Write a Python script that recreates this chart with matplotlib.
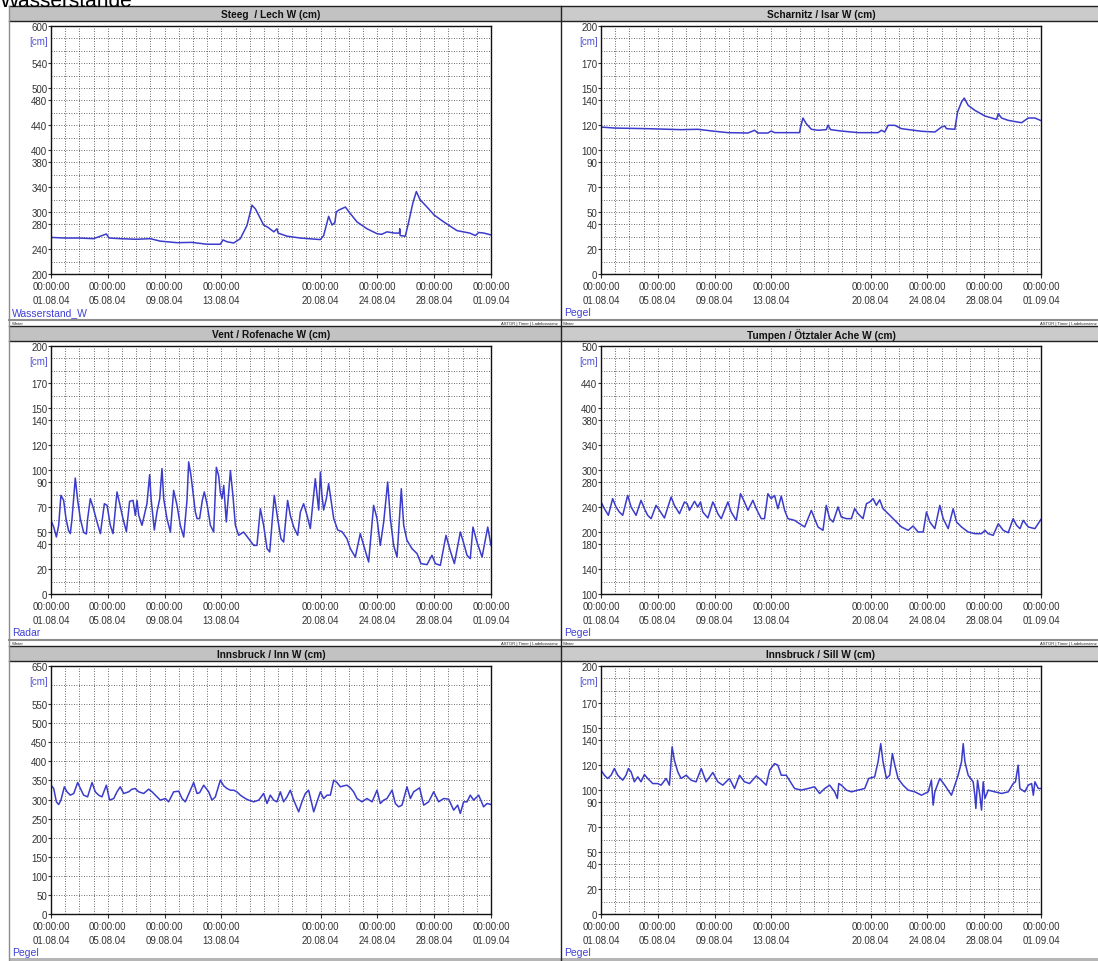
import matplotlib
matplotlib.use("Agg")
import matplotlib.pyplot as plt
from matplotlib.patches import Rectangle

plt.rcParams['font.family'] = ['Liberation Sans', 'DejaVu Sans']

# ---------------- data (time in days since 01.08.04 00:00, level in cm) -------------
steeg_day = [0, 1, 2, 3, 3.9, 4.1, 4.88, 6, 7.0, 7.7, 8.88, 9.93, 10.99, 11.93, 12.12, 12.4,
             12.87, 13.34, 13.81, 14.16, 14.4, 14.63, 14.98, 15.3, 15.7, 15.92, 16.0, 16.63,
             17.57, 18.98, 19.21, 19.56, 19.80, 20.0, 20.1, 20.27, 20.74, 21.0, 21.56, 22.26,
             22.97, 23.3, 23.67, 24.2, 24.55, 24.57, 24.6, 24.96, 25.2, 25.5, 25.74, 26.0,
             26.49, 27.0, 27.67, 28.6, 29.5, 29.9, 30.13, 30.5, 31.0]
steeg_cm = [259, 258, 258, 257, 264.5, 258, 257, 256, 257, 253, 250.5, 251, 248, 248, 255, 252,
            250, 257, 278.5, 311, 305, 295, 279, 275, 268, 273, 266, 261,
            258, 255.5, 262, 293, 279, 283, 300, 303, 308, 300, 284, 273,
            265, 264, 268, 266, 266, 273, 262, 261, 284, 315, 333, 320,
            308, 295, 284, 270, 266, 262, 267, 266, 263]

scharnitz_day = [0, 0.94, 3.29, 5.64, 6.82, 8.00, 8.94, 10.35, 10.82, 11.05, 11.76, 11.99, 12.23,
                 13.99, 14.06, 14.23, 14.46, 14.82, 15.29, 15.87, 15.99, 16.18, 16.93, 18.11,
                 19.52, 19.76, 19.99, 20.23, 20.70, 21.17, 22.58, 23.52, 23.99, 24.22, 24.34,
                 24.93, 25.12, 25.40, 25.59, 25.87, 26.34, 27.05, 27.87, 27.99, 28.22, 28.69,
                 29.63, 30.10, 30.57, 31.0]
scharnitz_cm = [118.5, 117.7, 117.2, 116.4, 116.7, 115.1, 114.0, 113.7, 115.9, 113.7, 113.7, 115.3,
                114.0, 114.0, 118.5, 125.8, 121.2, 116.7, 115.9, 116.4, 119.9, 116.4, 115.3, 114.0,
                114.0, 115.9, 114.5, 119.9, 119.9, 117.2, 115.1, 114.5, 118.5, 119.4, 117.2,
                116.7, 130.6, 138.7, 141.9, 136.0, 132.0, 127.4, 124.7, 129.3, 125.8, 123.9,
                122.0, 125.8, 125.8, 123.7]

vent_day = [0.00, 0.19, 0.38, 0.54, 0.70, 0.89, 1.06, 1.24, 1.36, 1.48, 1.71, 1.88, 2.07, 2.30,
            2.49, 2.58, 2.77, 2.96, 3.24, 3.48, 3.76, 3.95, 4.18, 4.37, 4.65, 4.84, 5.07, 5.31,
            5.54, 5.78, 5.94, 6.06, 6.18, 6.41, 6.76, 6.95, 7.05, 7.28, 7.47, 7.66, 7.82, 7.94,
            8.17, 8.41, 8.64, 8.88, 9.11, 9.35, 9.58, 9.70, 9.86, 10.17, 10.29, 10.47, 10.66,
            10.80, 10.99, 11.23, 11.46, 11.65, 11.81, 11.93, 12.05, 12.17, 12.35, 12.64, 12.82,
            12.99, 13.22, 13.57, 13.93, 14.28, 14.51, 14.75, 14.98, 15.22, 15.41, 15.73, 15.97,
            16.20, 16.39, 16.67, 16.86, 17.10, 17.38, 17.57, 17.80, 18.04, 18.27, 18.62, 18.86,
            18.98, 19.09, 19.21, 19.40, 19.56, 19.73, 19.92, 20.20, 20.50, 20.85, 21.09, 21.44,
            21.79, 22.03, 22.38, 22.73, 22.97, 23.20, 23.44, 23.72, 23.91, 24.14, 24.38, 24.68,
            24.85, 25.08, 25.43, 25.79, 26.07, 26.49, 26.84, 27.08, 27.43, 27.83, 28.14, 28.42,
            28.84, 29.12, 29.31, 29.54, 29.73, 30.01, 30.37, 30.77, 31.00]
vent_cm = [59.4, 54.0, 46.0, 55.4, 79.6, 75.5, 60.5, 51.1, 48.7, 60.5, 93.5, 75.5, 60.5, 49.7,
           48.4, 60.5, 76.9, 70.2, 58.1, 48.7, 72.8, 71.5, 55.4, 48.7, 82.3, 72.8, 60.8, 50.3,
           74.7, 75.5, 63.4, 75.5, 63.4, 55.4, 72.8, 96.2, 76.9, 51.6, 66.4, 76.9, 101.1, 76.9,
           60.8, 50.0, 83.6, 71.5, 55.4, 45.9, 75.5, 106.5, 95.7, 66.1, 60.8, 60.8, 75.5,
           82.3, 72.8, 55.4, 50.0, 102.2, 95.4, 82.0, 76.9, 87.6, 58.1, 99.5, 79.0,
           55.4, 47.3, 50.0, 44.6, 39.2, 39.2, 68.8, 55.4, 36.6, 33.9, 79.6, 60.8,
           44.6, 41.9, 75.5, 63.4, 54.0, 47.3, 66.1, 72.8, 63.4, 52.7, 93.0, 67.7,
           98.4, 79.6, 67.7, 76.9, 89.0, 75.5, 60.8, 51.6, 50.3, 44.6, 36.6, 29.8,
           48.7, 39.2, 25.8, 71.5, 60.8, 39.2, 58.1, 90.3, 60.8, 39.2, 29.8, 84.9,
           55.4, 43.3, 36.6, 32.6, 24.5, 23.7, 31.2, 24.5, 23.1, 47.3, 34.4, 24.5,
           50.0, 39.2, 31.2, 28.5, 54.0, 41.9, 29.8, 54.0, 39.2]

tumpen_day = [0, 0.24, 0.52, 0.82, 1.06, 1.29, 1.53, 1.88, 2.12, 2.47, 2.82, 3.06, 3.29, 3.53,
              3.88, 4.12, 4.47, 4.94, 5.17, 5.53, 5.88, 6.07, 6.23, 6.59, 6.82, 7.01, 7.17, 7.53,
              7.88, 8.00, 8.23, 8.47, 8.94, 9.17, 9.53, 9.83, 10.11, 10.35, 10.70, 10.94, 11.29,
              11.52, 11.76, 11.99, 12.23, 12.46, 12.70, 12.94, 13.17, 13.64, 13.99, 14.35, 14.82,
              15.05, 15.29, 15.64, 15.87, 16.11, 16.35, 16.70, 16.93, 17.29, 17.64, 17.87, 18.11,
              18.46, 18.70, 18.93, 19.17, 19.40, 19.64, 19.87, 20.23, 20.70, 21.17, 21.64, 21.99,
              22.34, 22.70, 22.93, 23.17, 23.52, 23.87, 24.11, 24.46, 24.81, 25.05, 25.40, 25.87,
              26.34, 26.81, 27.05, 27.28, 27.63, 27.99, 28.34, 28.69, 29.04, 29.28, 29.52, 29.75,
              30.10, 30.57, 31.00]
tumpen_cm = [248.4, 237.6, 226.9, 253.8, 240.3, 232.3, 226.9, 259.1, 240.3, 226.9, 251.1, 237.6,
             226.9, 221.5, 243.0, 234.9, 222.6, 256.5, 243.0, 229.6, 248.4, 245.7, 234.9, 249.5,
             240.3, 248.4, 232.3, 222.6, 248.4, 243.0, 229.6, 221.5, 248.4, 232.3, 218.8, 261.8,
             248.4, 234.9, 251.1, 237.6, 221.5, 221.5, 261.8, 253.8, 259.1, 237.6, 258.0, 234.9,
             221.5, 218.8, 213.4, 208.1, 234.9, 221.5, 208.1, 202.7, 243.0, 221.5, 216.1, 240.3,
             224.2, 221.5, 221.5, 237.6, 229.6, 221.5, 245.7, 248.4, 253.8, 243.0, 251.9, 237.6,
             229.6, 218.8, 208.1, 202.7, 209.7, 200.0, 200.0, 232.3, 216.1, 205.4, 243.0, 221.5,
             205.4, 237.6, 216.1, 208.1, 200.0, 197.3, 197.3, 202.7, 197.3, 194.6, 213.4, 202.7,
             198.9, 221.5, 210.8, 205.4, 218.8, 208.1, 205.4, 220.4]

inn_day = [0, 0.19, 0.38, 0.54, 0.70, 0.94, 1.13, 1.36, 1.60, 1.88, 2.07, 2.30, 2.58, 2.89,
           3.12, 3.36, 3.59, 3.90, 4.13, 4.42, 4.65, 4.88, 5.12, 5.47, 5.71, 5.94, 6.18, 6.53,
           6.88, 7.12, 7.35, 7.70, 8.06, 8.29, 8.64, 9.00, 9.23, 9.46, 9.77, 10.05, 10.29, 10.47,
           10.76, 11.11, 11.34, 11.58, 11.93, 12.17, 12.40, 12.64, 12.87, 13.10, 13.34, 13.69,
           13.93, 14.28, 14.63, 14.98, 15.22, 15.45, 15.69, 15.92, 16.16, 16.39, 16.63, 16.86,
           17.10, 17.45, 17.68, 17.92, 18.15, 18.51, 18.74, 18.98, 19.21, 19.45, 19.68, 19.92,
           20.15, 20.39, 20.62, 20.85, 21.09, 21.32, 21.56, 21.91, 22.26, 22.62, 22.97, 23.20,
           23.44, 23.67, 24.03, 24.26, 24.49, 24.73, 25.08, 25.32, 25.55, 25.97, 26.26, 26.61,
           26.96, 27.31, 27.67, 28.02, 28.37, 28.65, 28.84, 29.07, 29.31, 29.54, 29.78, 30.13,
           30.48, 30.72, 31.00]
inn_cm = [337.6, 328.9, 294.0, 287.0, 298.4, 333.3, 320.2, 311.5, 315.8, 344.6, 328.9, 311.5,
          307.1, 344.6, 320.2, 311.5, 307.1, 337.6, 298.4, 302.7, 320.2, 333.3, 315.8, 320.2,
          327.2, 328.9, 320.2, 315.8, 327.2, 320.2, 311.5, 298.4, 302.7, 294.0, 320.2, 321.9,
          302.7, 294.0, 320.2, 344.6, 315.8, 318.0, 337.6, 320.2, 298.4, 307.1, 350.7, 335.9,
          328.9, 324.5, 324.5, 320.2, 311.5, 302.7, 298.4, 294.0, 298.4, 315.8, 289.7, 311.5,
          298.4, 294.0, 320.2, 294.0, 307.1, 324.5, 298.4, 267.8, 294.0, 315.8, 324.5, 267.8,
          294.0, 320.2, 302.7, 311.5, 311.5, 350.7, 344.6, 333.3, 335.9, 337.6, 330.7, 320.2,
          302.7, 294.0, 302.7, 294.0, 324.5, 289.7, 298.4, 302.7, 324.5, 289.7, 280.9, 285.3,
          333.3, 302.7, 320.2, 330.7, 285.3, 294.0, 320.2, 294.0, 302.7, 300.9, 272.2, 285.3,
          263.5, 294.0, 294.0, 311.5, 298.4, 311.5, 280.9, 289.7, 287.0]

sill_day = [0, 0.24, 0.47, 0.71, 0.94, 1.18, 1.53, 1.76, 1.93, 2.12, 2.35, 2.59, 2.82, 3.06,
            3.29, 3.65, 4.00, 4.23, 4.59, 4.82, 5.01, 5.17, 5.41, 5.64, 6.00, 6.35, 6.70, 7.06,
            7.41, 7.88, 8.23, 8.58, 9.05, 9.41, 9.76, 10.11, 10.47, 10.94, 11.29, 11.64, 11.88,
            12.23, 12.46, 12.70, 13.05, 13.64, 14.11, 14.58, 15.05, 15.40, 15.76, 16.11, 16.46,
            16.65, 16.75, 16.93, 17.29, 17.64, 18.11, 18.58, 18.86, 19.28, 19.52, 19.71, 19.87,
            20.11, 20.34, 20.53, 20.70, 20.93, 21.28, 21.64, 22.11, 22.58, 23.05, 23.28, 23.40,
            23.52, 23.87, 24.22, 24.69, 24.93, 25.16, 25.40, 25.52, 25.64, 25.87, 26.22, 26.34,
            26.41, 26.53, 26.69, 26.81, 26.93, 27.05, 27.28, 27.75, 28.22, 28.69, 29.04, 29.20,
            29.39, 29.51, 29.86, 30.10, 30.34, 30.46, 30.57, 30.81, 31.00]
sill_cm = [116.0, 111.9, 109.3, 111.9, 117.3, 111.9, 107.9, 111.9, 117.3, 114.6, 106.6, 110.6,
           106.6, 112.5, 109.3, 105.2, 105.2, 103.9, 109.3, 103.9, 134.8, 124.0, 114.6, 109.3,
           111.9, 107.9, 106.6, 117.3, 106.6, 114.1, 106.6, 103.9, 109.3, 101.2, 111.9, 106.6,
           105.2, 111.4, 107.9, 103.9, 116.0, 121.3, 120.0, 111.9, 111.9, 101.2, 99.9, 101.2,
           102.6, 97.2, 101.2, 103.9, 98.5, 93.2, 105.2, 103.9, 99.9, 98.5, 99.9, 101.2, 109.3,
           110.6, 122.7, 137.4, 122.7, 109.3, 111.9, 129.4, 120.0, 109.3, 103.9, 99.9, 98.5,
           95.8, 98.5, 108.0, 87.8, 98.5, 109.3, 103.9, 95.8, 103.9, 111.9, 122.7, 137.4, 122.7,
           111.9, 106.6, 95.8, 85.1, 107.9, 95.8, 83.8, 106.6, 93.2, 99.9, 98.5, 97.2, 98.5,
           105.2, 106.6, 120.0, 101.2, 98.5, 103.9, 105.2, 95.8, 106.6, 101.2, 101.2]

titles = ["Steeg  / Lech W (cm)", "Scharnitz / Isar W (cm)", "Vent / Rofenache W (cm)",
          "Tumpen / Ötztaler Ache W (cm)", "Innsbruck / Inn W (cm)", "Innsbruck / Sill W (cm)"]
sources = ["Wasserstand_W", "Pegel", "Radar", "Pegel", "Pegel", "Pegel"]
y_ranges = [(200, 600), (0, 200), (0, 200), (100, 500), (0, 650), (0, 200)]
y_grid_steps = [20, 10, 10, 20, 50, 10]
y_labels = [[600, 540, 500, 480, 440, 400, 380, 340, 300, 280, 240, 200],
            [200, 170, 150, 140, 120, 100, 90, 70, 50, 40, 20, 0],
            [200, 170, 150, 140, 120, 100, 90, 70, 50, 40, 20, 0],
            [500, 440, 400, 380, 340, 300, 280, 240, 200, 180, 140, 100],
            [650, 550, 500, 450, 400, 350, 300, 250, 200, 150, 100, 50, 0],
            [200, 170, 150, 140, 120, 100, 90, 70, 50, 40, 20, 0]]
x_label_days = [0, 4, 8, 12, 19, 23, 27, 31]
x_label_dates = ["01.08.04", "05.08.04", "09.08.04", "13.08.04", "20.08.04", "24.08.04",
                 "28.08.04", "01.09.04"]
series = [(steeg_day, steeg_cm), (scharnitz_day, scharnitz_cm), (vent_day, vent_cm),
          (tumpen_day, tumpen_cm), (inn_day, inn_cm), (sill_day, sill_cm)]

# ---------------- layout ----------------
W, H = 1098, 962
fig = plt.figure(figsize=(W / 100, H / 100), dpi=100)
fig.patch.set_facecolor('white')


def fbox(x0, y0, x1, y1):
    return [x0 / W, 1 - y1 / H, (x1 - x0) / W, (y1 - y0) / H]


bg = fig.add_axes([0, 0, 1, 1])
bg.set_xlim(0, W)
bg.set_ylim(H, 0)
bg.axis('off')

TXT = '#333333'
BLUE = '#3b3bcc'

bg.text(0, 7, "Wasserstände", fontsize=15, color='black', va='baseline', ha='left')

for r in range(3):
    dy = 320 * r
    # title bars
    bg.add_patch(Rectangle((9, 7 + dy), 552, 15, facecolor='#c2c2c2', edgecolor='none'))
    bg.add_patch(Rectangle((561, 7 + dy), 537, 15, facecolor='#cbcbcb', edgecolor='none'))
    bg.plot([9, W], [7 + dy, 7 + dy], color='#222222', lw=1.0)
    bg.plot([9, W], [22 + dy, 22 + dy], color='#222222', lw=1.0)
    if r < 2:
        bg.plot([9, W], [321 + dy, 321 + dy], color='#8c8c8c', lw=1.5)
        bg.text(12, 324 + dy, "Winter", fontsize=3, color='#222222', va='center')
        bg.text(558, 324 + dy, "ASTOR | Timer | Ladekonstanz", fontsize=3, color='#222222',
                va='center', ha='right')
        bg.text(563, 324 + dy, "Winter", fontsize=3, color='#222222', va='center')
        bg.text(1097, 324 + dy, "ASTOR | Timer | Ladekonstanz", fontsize=3, color='#222222',
                va='center', ha='right')
bg.add_patch(Rectangle((9, 959), W - 9, 3, facecolor='#b5b5b5', edgecolor='none'))
bg.plot([9, 9], [7, 962], color='#8c8c8c', lw=1.0)
bg.plot([561, 561], [7, 962], color='#222222', lw=1.0)

for i, (days, vals) in enumerate(series):
    r, c = divmod(i, 2)
    dy, dx = 320 * r, 550 * c
    x0, x1 = 51 + dx, 491 + dx
    y0, y1 = 27 + dy, 275 + dy
    ax = fig.add_axes(fbox(x0, y0, x1, y1))
    lo, hi = y_ranges[i]
    ax.set_xlim(0, 31)
    ax.set_ylim(lo, hi)
    ax.set_xticks(range(32), minor=True)
    ax.set_yticks(range(lo, hi + 1, y_grid_steps[i]), minor=True)
    ax.set_xticks(x_label_days)
    ax.set_xticklabels(["00:00:00\n" + d for d in x_label_dates], linespacing=1.45)
    ax.set_yticks(y_labels[i])
    ax.set_yticklabels([str(v) for v in y_labels[i]])
    ax.grid(which='both', linestyle=(0, (1, 2)), color='#3a3a3a', lw=0.6)
    ax.tick_params(which='minor', length=0)
    ax.tick_params(axis='y', which='major', length=2.2, width=0.8, pad=0.4,
                   labelsize=7, labelcolor=TXT, color='#333333')
    ax.tick_params(axis='x', which='major', length=3, width=0.8, pad=2,
                   labelsize=7, labelcolor=TXT, color='#333333')
    for s in ax.spines.values():
        s.set_color('#111111')
        s.set_linewidth(1.0)
    ax.plot(days, vals, color=BLUE, lw=1.1)

    bg.text((x0 + x1) / 2, 14.8 + dy, titles[i], fontsize=7.3, fontweight='bold',
            color='#111111', ha='center', va='center')
    bg.text(48 + dx, 42 + dy, "[cm]", fontsize=7, color='#5050d8', ha='right', va='center')
    bg.text(12 + dx + (2 if c else 0), 313 + dy, sources[i], fontsize=7.5, color='#4040d8',
            ha='left', va='center')

fig.savefig("out.png", dpi=100)
